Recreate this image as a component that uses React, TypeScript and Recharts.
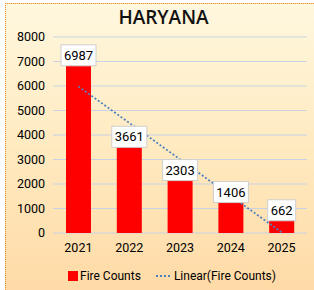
import { ComposedChart, Bar, Line, XAxis, YAxis, CartesianGrid, Legend, LabelList } from 'recharts'

const years = ['2021', '2022', '2023', '2024', '2025']
const fireCounts = [6987, 3661, 2303, 1406, 662]
// dotted trend line
const trendCounts = [5985, 4495, 3005, 1515, 25]
const yTicks = [0, 1000, 2000, 3000, 4000, 5000, 6000, 7000, 8000]

const data = years.map((year, i) => ({ year, fire: fireCounts[i], trend: trendCounts[i] }))

const FONT = 'Roboto, "Noto Sans", sans-serif'
const tickStyle = { fontSize: 12.5, fontFamily: FONT, fill: '#000' }

function ValueBox(props: any) {
  const { x, y, width, value } = props
  const text = String(value)
  const w = text.length * 7 + 7
  const h = 21
  const cx = x + width / 2
  const top = y - h + 4
  return (
    <g>
      <rect x={cx - w / 2} y={top} width={w} height={h} fill="#fff" stroke="#cfcfcf" strokeWidth={1} />
      <text x={cx} y={top + h / 2 + 4.5} textAnchor="middle" fontSize={13} fontFamily={FONT} fill="#000">
        {text}
      </text>
    </g>
  )
}

function LegendContent() {
  return (
    <div style={{ display: 'flex', alignItems: 'center', height: 22, paddingLeft: 68, paddingTop: 2, fontFamily: FONT, fontSize: 12, color: '#000' }}>
      <span style={{ display: 'inline-block', width: 10, height: 10, background: '#ff0000', marginRight: 2 }} />
      <span>Fire Counts</span>
      <svg width={18} height={4} style={{ marginLeft: 14, marginRight: 1 }}>
        <line x1={1} y1={2} x2={17} y2={2} stroke="#4f81bd" strokeWidth={1.8} strokeDasharray="2 2" />
      </svg>
      <span>Linear(Fire Counts)</span>
    </div>
  )
}

export default function App() {
  return (
    <div style={{ position: 'absolute', left: 0, top: 0, width: 314, height: 290, background: '#fff', overflow: 'hidden' }}>
      <div
        style={{
          position: 'absolute', left: 5, top: 3, width: 320, height: 300,
          borderTop: '1.5px dotted #ee8a2a', borderLeft: '1.5px dotted #ee8a2a',
          background: 'linear-gradient(180deg, #fff7de 0%, #ffebc2 45%, #ffd9a4 100%)',
        }}
      />
      <div style={{ position: 'absolute', left: 0, top: 4, width: 327, textAlign: 'center', fontFamily: '"Open Sans", sans-serif', fontWeight: 600, fontSize: 19, color: '#111' }}>
        HARYANA
      </div>
      <div style={{ position: 'absolute', left: 0, top: 0 }}>
        <ComposedChart width={314} height={290} data={data} margin={{ top: 37, right: 7, bottom: 5, left: 0 }}>
          <CartesianGrid vertical={false} stroke="#c9d2e2" />
          <XAxis dataKey="year" tickLine={false} axisLine={false} tickSize={0} tickMargin={10} height={30} tick={tickStyle} />
          <YAxis domain={[0, 8000]} ticks={yTicks} width={53} tickLine={false} axisLine={false} tickSize={0} tickMargin={8} tick={tickStyle} />
          <Bar dataKey="fire" name="Fire Counts" fill="#ff0000" barSize={25} isAnimationActive={false}>
            <LabelList dataKey="fire" content={ValueBox} />
          </Bar>
          <Line dataKey="trend" name="Linear(Fire Counts)" type="linear" stroke="#4f81bd" strokeWidth={1.8}
            strokeDasharray="2 2" dot={false} activeDot={false} isAnimationActive={false} />
          <Legend verticalAlign="bottom" height={22} content={LegendContent} wrapperStyle={{ left: 0, width: 314 }} />
        </ComposedChart>
      </div>
    </div>
  )
}
